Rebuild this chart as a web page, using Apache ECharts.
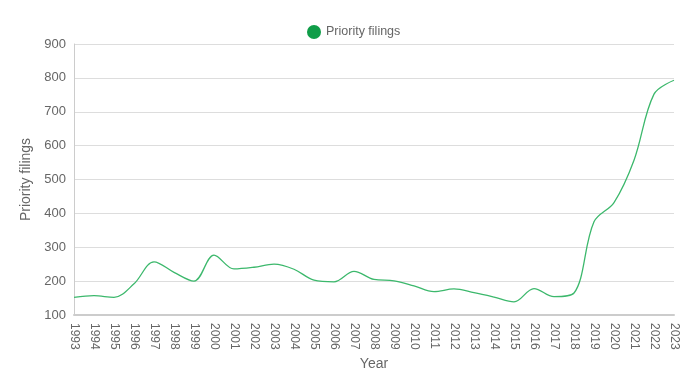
<!DOCTYPE html>
<html>
<head>
<meta charset="utf-8">
<script src="https://cdn.jsdelivr.net/npm/echarts@6/dist/echarts.min.js"></script>
<style>html,body{margin:0;padding:0;background:#fff}#c{width:696px;height:385px}</style>
</head>
<body>
<div id="c"></div>
<script>
const years = ['1993','1994','1995','1996','1997','1998','1999','2000','2001','2002','2003','2004','2005','2006','2007','2008','2009','2010','2011','2012','2013','2014','2015','2016','2017','2018','2019','2020','2021','2022','2023'];
const filings = [152,157,152,192,257,226,200,277,236,241,250,235,203,198,229,205,201,186,169,177,166,153,139,178,154,165,375,432,557,752,793];
const yTicks = {min:100, max:900, interval:100};

const chart = echarts.init(document.getElementById('c'));
chart.setOption({
  animation:false,
  textStyle:{fontFamily:'Liberation Sans, Arial, sans-serif'},
  legend:{
    top:20, left:302,
    icon:'circle', itemWidth:14, itemHeight:14, itemGap:10,
    textStyle:{color:'#666', fontSize:12.5},
    data:[{name:'Priority filings', itemStyle:{color:'#0f9d48'}}]
  },
  grid:{left:74, right:22, top:44, bottom:70},
  xAxis:{
    type:'category', data:years, boundaryGap:false,
    name:'Year', nameLocation:'middle', nameGap:37,
    nameTextStyle:{color:'#666', fontSize:14},
    axisLine:{lineStyle:{color:'#ccc', width:2}},
    axisTick:{show:false},
    axisLabel:{rotate:-90, color:'#666', fontSize:12, interval:0, margin:8}
  },
  yAxis:{
    type:'value', min:yTicks.min, max:yTicks.max, interval:yTicks.interval,
    name:'Priority filings', nameLocation:'middle', nameGap:36,
    nameTextStyle:{color:'#666', fontSize:14},
    axisLine:{show:true, lineStyle:{color:'#ccc'}},
    axisTick:{show:false},
    axisLabel:{color:'#666', fontSize:13, margin:8},
    splitLine:{lineStyle:{color:'#ddd'}}
  },
  series:[{
    name:'Priority filings', type:'line', data:filings, smooth:0.35,
    showSymbol:false, symbol:'none',
    itemStyle:{color:'#0f9d48'},
    lineStyle:{color:'#3cb86c', width:1.3}
  }]
});
</script>
</body>
</html>
